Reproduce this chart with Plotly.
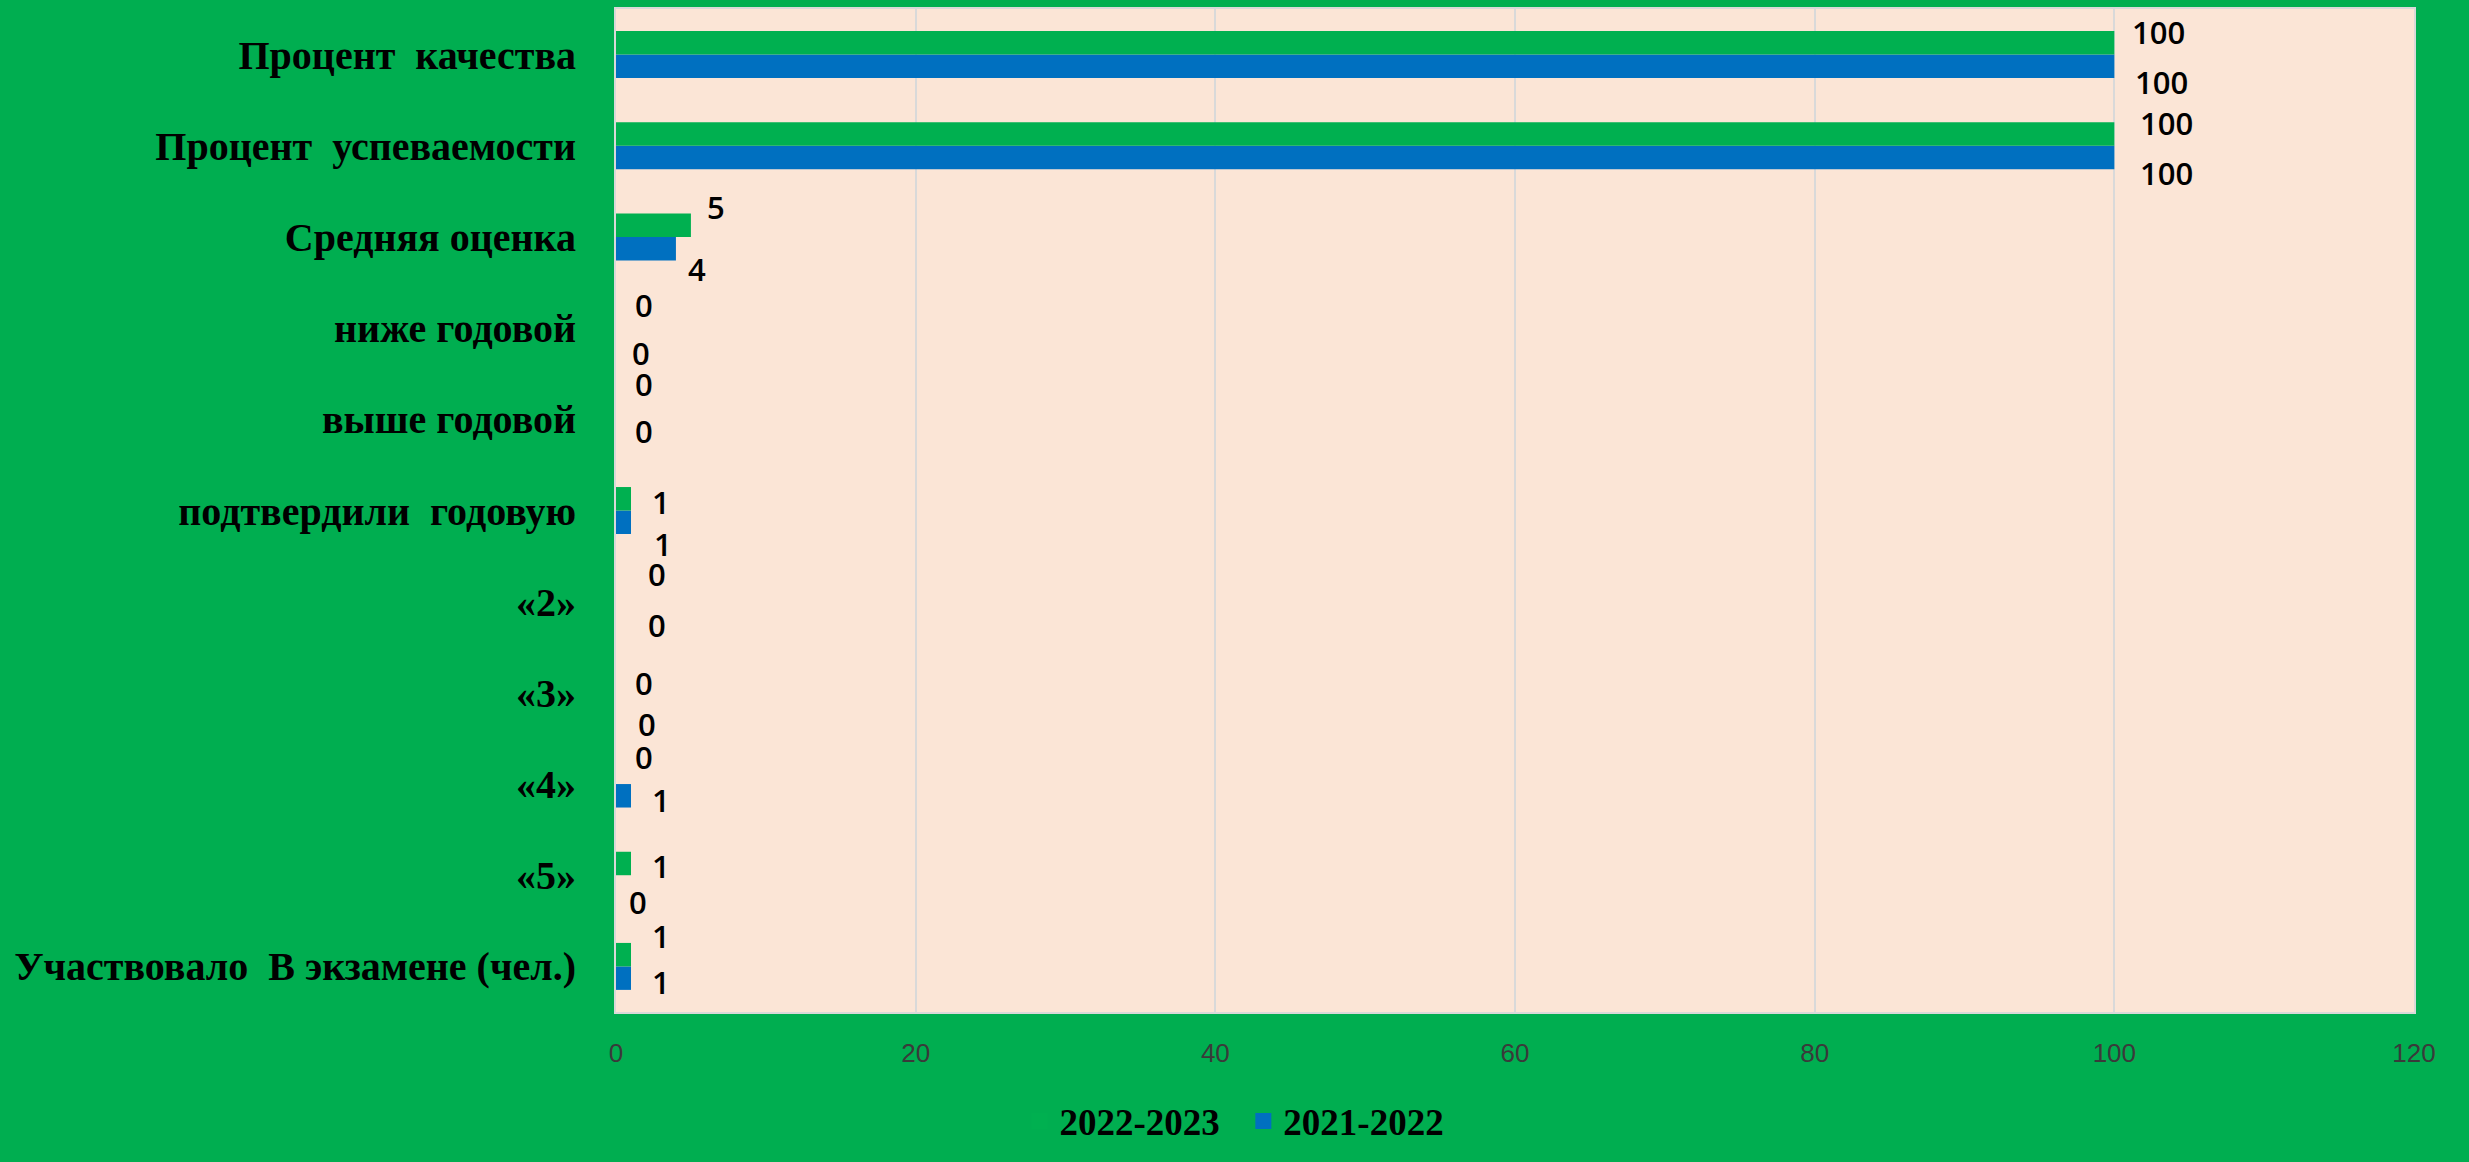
import plotly.graph_objects as go

# Categories listed bottom-to-top
categories = [
    "Участвовало\u00a0 В экзамене (чел.)",
    "«5»",
    "«4»",
    "«3»",
    "«2»",
    "подтвердили\u00a0 годовую",
    "выше годовой",
    "ниже годовой",
    "Средняя оценка",
    "Процент\u00a0 успеваемости",
    "Процент\u00a0 качества",
]
values_2021_2022 = [1, 0, 1, 0, 0, 1, 0, 0, 4, 100, 100]
values_2022_2023 = [1, 1, 0, 0, 0, 1, 0, 0, 5, 100, 100]
series_names = ["2021-2022", "2022-2023"]
x_ticks = [0, 20, 40, 60, 80, 100, 120]

# label offsets (pixels) relative to bar end / category centre (style only)
dx_2122 = [30, 22, 30, 31, 41, 32, 28, 25, 21, 52, 47]
dy_2122 = [-16, -27, -16, -31, -23, -33, -12, -25, -32, -27.5, -27.4]
dx_2223 = [30, 30, 28, 28, 41, 30, 28, 28, 25, 52, 44]
dy_2223 = [30, 9, 27, 10, 28, 9, 35, 23, 30, 22.5, 22.6]

BG = "#00AE50"
PLOT_BG = "#FBE5D6"
GREEN = "#00B050"
BLUE = "#0070C0"

fig = go.Figure()
fig.add_trace(go.Bar(
    y=categories, x=values_2021_2022, name=series_names[0], orientation="h",
    marker=dict(color=BLUE, line=dict(width=0)), showlegend=False,
))
fig.add_trace(go.Bar(
    y=categories, x=values_2022_2023, name=series_names[1], orientation="h",
    marker=dict(color=GREEN, line=dict(width=0)), showlegend=False,
))
# legend entries (square markers, Excel-like), listed 2022-2023 first
fig.add_trace(go.Scatter(
    x=[None], y=[None], mode="markers", name=series_names[1] + "\u00a0\u00a0",
    marker=dict(symbol="square", size=18, color=GREEN), showlegend=True,
))
fig.add_trace(go.Scatter(
    x=[None], y=[None], mode="markers", name=series_names[0],
    marker=dict(symbol="square", size=18, color=BLUE), showlegend=True,
))

label_font = dict(family="Open Sans", size=31, color="#000000", weight=600)
annotations = []
for vals, dxs, dys in ((values_2021_2022, dx_2122, dy_2122), (values_2022_2023, dx_2223, dy_2223)):
    for cat, v, dx, dy in zip(categories, vals, dxs, dys):
        annotations.append(dict(
            x=v, y=cat, xref="x", yref="y", text=str(v), showarrow=False,
            xanchor="center", yanchor="middle", xshift=dx, yshift=dy,
            font=label_font,
        ))

fig.update_layout(
    width=2469, height=1162,
    margin=dict(l=616, r=55, t=7, b=150),
    paper_bgcolor=BG,
    plot_bgcolor=PLOT_BG,
    barmode="group",
    bargap=0.485,
    bargroupgap=0,
    showlegend=True,
    legend=dict(
        orientation="h", traceorder="normal",
        x=0.5, xref="container", xanchor="center",
        y=0.035, yref="container", yanchor="middle",
        font=dict(family="Liberation Serif", size=37, color="#000000", weight="bold"),
        bgcolor="rgba(0,0,0,0)", itemwidth=30, itemsizing="trace",
    ),
    annotations=annotations,
    xaxis=dict(
        range=[0, 120], tickvals=x_ticks, ticktext=[str(t) for t in x_ticks],
        showgrid=True, gridcolor="#D9D9D9", gridwidth=2,
        zeroline=False, showline=True, linecolor="#D9D9D9", linewidth=2, mirror=True,
        tickfont=dict(family="Liberation Sans", size=26, color="#3A3A3A"),
        ticks="", ticklabelstandoff=17,
    ),
    yaxis=dict(
        showgrid=False, zeroline=False, showline=True, linecolor="#D9D9D9", linewidth=2, mirror=True,
        tickfont=dict(family="Liberation Serif", size=40, color="#000000", weight="bold"),
        ticks="", ticklabelstandoff=30,
    ),
)

fig.write_html(
    "out.html",
    config={"displayModeBar": False},
    post_script="document.body.style.margin='0';document.body.style.overflow='hidden';",
)
